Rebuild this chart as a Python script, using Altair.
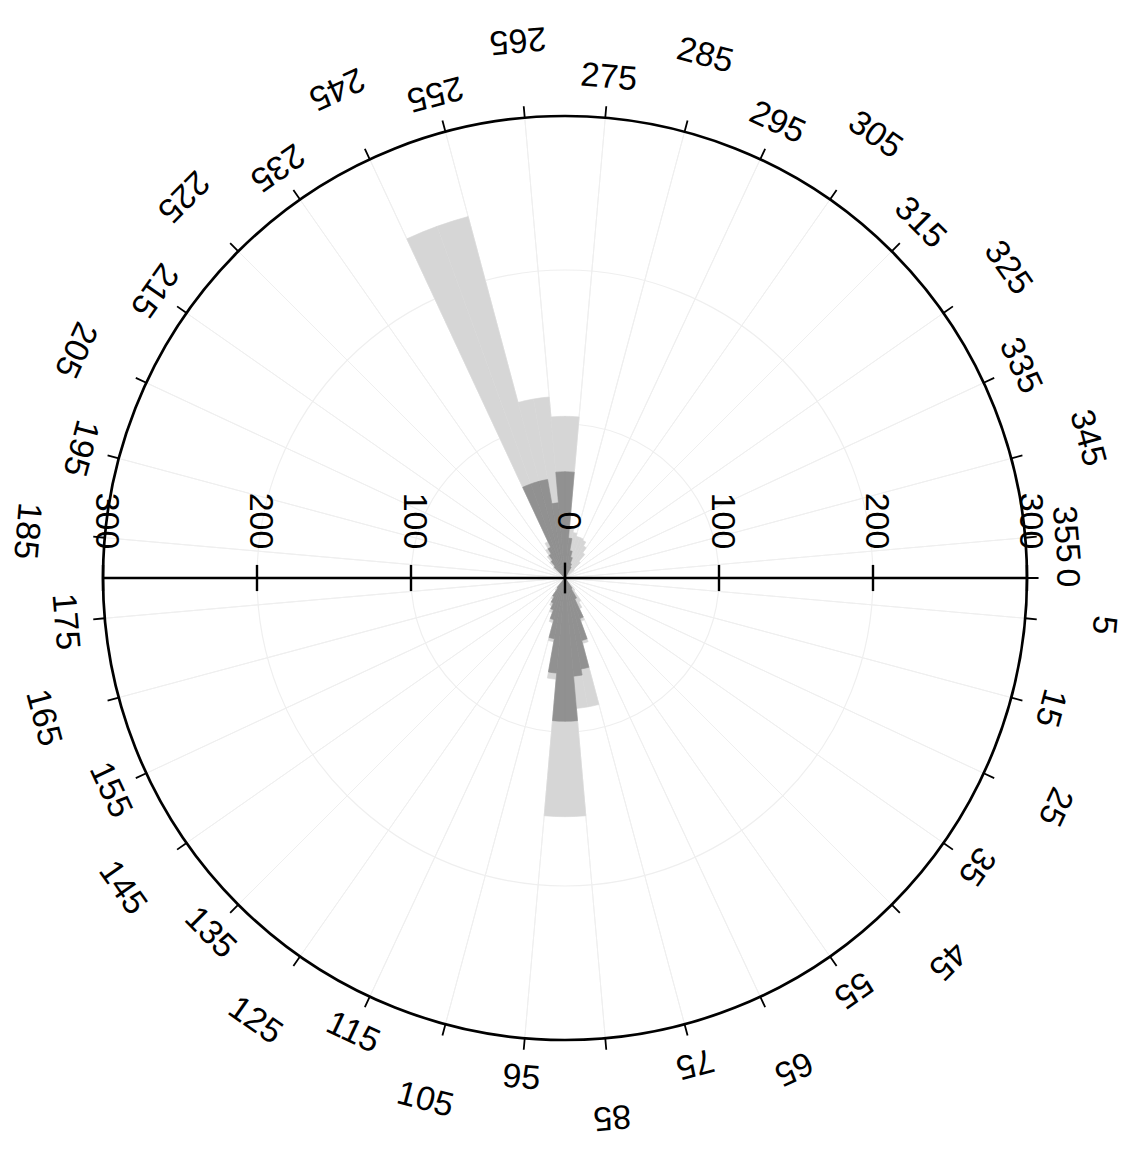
import math
import altair as alt
import pandas as pd

# ---------------- data ----------------
# 5-degree direction bins (start angle, measured clockwise from east)
bin_start = [50, 55, 60, 65, 70, 75, 80, 85, 90, 95, 100, 105, 110, 115, 120, 125,
             220, 225, 230, 235, 240, 245, 250, 255, 260, 265, 270, 275, 280, 285,
             290, 295, 300, 305, 310, 315]
light_vals = [10, 18, 22, 30, 44, 85, 85, 155, 155, 66, 42, 30, 24, 20, 16, 10,
              10, 14, 18, 22, 26, 243, 243, 118, 118, 105, 105, 32, 30, 28,
              28, 27, 24, 20, 14, 8]
dark_vals = [0, 8, 15, 28, 42, 60, 64, 93, 93, 62, 40, 28, 22, 18, 14, 8,
             0, 10, 14, 18, 22, 65, 65, 65, 49, 69, 69, 26, 18, 14,
             10, 8, 0, 0, 0, 0]
bin_width = 5

angle_labels = list(range(5, 360, 10)) + [0]
angle_ticks = list(range(5, 360, 10)) + [0]
radial_ticks = [-300, -200, -100, 0, 100, 200, 300]
grid_rings = [100, 200]
r_max = 300

# ---------------- geometry / scales ----------------
R_PX = 462
W, H = 1127, 1142
CX, CY = 557, 570
k = R_PX / r_max

theta_scale = alt.Scale(type="linear", domain=[0, 360],
                        range=[math.pi / 2, math.pi / 2 + 2 * math.pi])
r_scale = alt.Scale(type="linear", domain=[0, r_max], range=[0, R_PX])
x_scale = alt.Scale(type="linear", domain=[-CX / k, (W - CX) / k], nice=False, zero=False)
y_scale = alt.Scale(type="linear", domain=[-(H - CY) / k, CY / k], nice=False, zero=False)

cx = alt.value(CX)
cy = alt.value(CY)

LIGHT = "#d6d6d6"
DARK = "#919191"
GRID = "#efefef"
FONT = "Liberation Sans"
FS = 34

# ---------------- grid ----------------
rings_df = pd.DataFrame({"r": grid_rings})
rings = alt.Chart(rings_df).transform_calculate(a0="0", a1="360").mark_arc(
    filled=False, stroke=GRID, strokeWidth=1.2
).encode(
    theta=alt.Theta("a0:Q", scale=theta_scale, stack=False),
    theta2="a1:Q",
    radius=alt.Radius("r:Q", scale=r_scale),
    x=cx, y=cy,
)

spk_df = pd.DataFrame({"a": angle_ticks})
spokes = alt.Chart(spk_df).transform_calculate(r=str(r_max)).mark_arc(
    filled=False, stroke=GRID, strokeWidth=1
).encode(
    theta=alt.Theta("a:Q", scale=theta_scale, stack=False),
    theta2="a:Q",
    radius=alt.Radius("r:Q", scale=r_scale),
    x=cx, y=cy,
)

# ---------------- bars ----------------
bars_df = pd.DataFrame({"start": bin_start, "light": light_vals, "dark": dark_vals})
bars_base = alt.Chart(bars_df).transform_calculate(end=f"datum.start + {bin_width}")

light = bars_base.mark_arc(color=LIGHT, stroke=LIGHT, strokeWidth=0.6).encode(
    theta=alt.Theta("start:Q", scale=theta_scale, stack=False),
    theta2="end:Q",
    radius=alt.Radius("light:Q", scale=r_scale),
    x=cx, y=cy,
)
dark = bars_base.transform_filter("datum.dark > 0").mark_arc(
    color=DARK, stroke=DARK, strokeWidth=0.6
).encode(
    theta=alt.Theta("start:Q", scale=theta_scale, stack=False),
    theta2="end:Q",
    radius=alt.Radius("dark:Q", scale=r_scale),
    x=cx, y=cy,
)

# ---------------- outer circle and its ticks ----------------
outer_df = pd.DataFrame({"r": [r_max]})
outer = alt.Chart(outer_df).transform_calculate(a0="0", a1="360").mark_arc(
    filled=False, stroke="black", strokeWidth=2.7
).encode(
    theta=alt.Theta("a0:Q", scale=theta_scale, stack=False),
    theta2="a1:Q",
    radius=alt.Radius("r:Q", scale=r_scale),
    x=cx, y=cy,
)

cticks = alt.Chart(spk_df).transform_calculate(
    ri=str(r_max), ro=f"{r_max} + 7.5"
).mark_arc(filled=False, stroke="black", strokeWidth=1.8).encode(
    theta=alt.Theta("a:Q", scale=theta_scale, stack=False),
    theta2="a:Q",
    radius=alt.Radius("ro:Q", scale=r_scale),
    radius2="ri:Q",
    x=cx, y=cy,
)

# ---------------- angle labels ----------------
lab_df = pd.DataFrame({"a": angle_labels})
labels = alt.Chart(lab_df).transform_calculate(
    lr="datum.a % 20 == 5 ? 351 : 326",
    rot="(datum.a >= 95 && datum.a <= 265) ? datum.a - 90 : (datum.a + 90) % 360",
    txt="toString(datum.a)",
).mark_text(font=FONT, fontSize=FS, align="center", baseline="middle", color="black").encode(
    theta=alt.Theta("a:Q", scale=theta_scale, stack=False),
    radius=alt.Radius("lr:Q", scale=r_scale),
    angle=alt.Angle("rot:Q", scale=None),
    text="txt:N",
    x=cx, y=cy,
)

# ---------------- horizontal radial axis ----------------
axis_df = pd.DataFrame({"x1": [-r_max], "x2": [r_max]})
axis_line = alt.Chart(axis_df).transform_calculate(y0="0").mark_rule(
    color="black", strokeWidth=2.7
).encode(
    x=alt.X("x1:Q", scale=x_scale, axis=None),
    x2="x2:Q",
    y=alt.Y("y0:Q", scale=y_scale, axis=None),
)

rad_df = pd.DataFrame({"t": radial_ticks})
rad_ticks = alt.Chart(rad_df).transform_calculate(
    lo="datum.t == 0 ? -10 : -8.5", hi="datum.t == 0 ? 10 : 8.5"
).mark_rule(color="black", strokeWidth=2.4).encode(
    x=alt.X("t:Q", scale=x_scale, axis=None),
    y=alt.Y("lo:Q", scale=y_scale, axis=None),
    y2="hi:Q",
)

rad_labels = alt.Chart(rad_df).transform_calculate(
    y0="0", txt="toString(abs(datum.t))"
).mark_text(font=FONT, fontSize=FS, angle=90, dx=-57, dy=-3,
            align="center", baseline="middle", color="black").encode(
    x=alt.X("t:Q", scale=x_scale, axis=None),
    y=alt.Y("y0:Q", scale=y_scale, axis=None),
    text="txt:N",
)

chart = alt.layer(
    rings, spokes, light, dark, outer, cticks, axis_line, rad_ticks, labels, rad_labels
).properties(
    width=W, height=H, padding=0,
    autosize=alt.AutoSizeParams(type="none"),
    background="white",
).configure_view(strokeWidth=0)

chart.save("out.html", embed_options={"renderer": "svg", "actions": False})
